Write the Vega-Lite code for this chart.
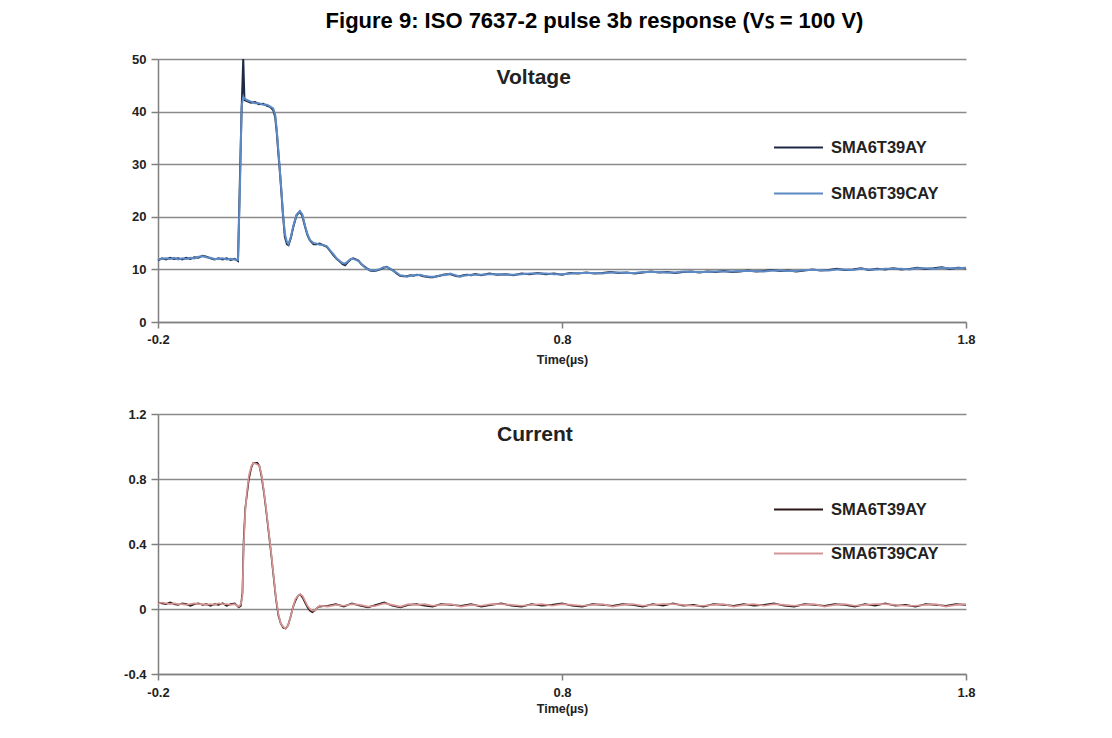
{
  "$schema": "https://vega.github.io/schema/vega-lite/v6.json",
  "background": "white",
  "padding": {"left": 118, "top": 10, "right": 10, "bottom": 10},
  "title": {"text": "Figure 9: ISO 7637-2 pulse 3b response (Vꜱ = 100 V)", "font": "Liberation Sans", "fontSize": 22, "fontWeight": "bold", "color": "#000000", "anchor": "middle", "dx": 48, "offset": 20},
  "config": {
    "font": "Liberation Sans",
    "view": {"stroke": null},
    "axis": {"labelFont": "Liberation Sans", "labelFontWeight": "bold", "labelFontSize": 13, "labelColor": "#222222", "domainColor": "#808080", "domainWidth": 1.5, "tickColor": "#808080", "tickWidth": 1.5, "gridColor": "#8a8a8a", "gridWidth": 1.3, "titleFont": "Liberation Sans", "titleFontWeight": "bold", "titleFontSize": 12.5, "titleColor": "#222222"},
    "legend": {"labelFont": "Liberation Sans", "labelFontWeight": "bold", "labelFontSize": 16.5, "labelColor": "#222222"}
  },
  "spacing": 42,
  "resolve": {"scale": {"color": "independent"}},
  "datasets": {
    "voltage": [
      {"t": -0.2, "SMA6T39AY": 11.7, "SMA6T39CAY": 11.9},
      {"t": -0.19, "SMA6T39AY": 12.1, "SMA6T39CAY": 12.0},
      {"t": -0.18, "SMA6T39AY": 11.9, "SMA6T39CAY": 12.1},
      {"t": -0.17, "SMA6T39AY": 12.2, "SMA6T39CAY": 12.0},
      {"t": -0.16, "SMA6T39AY": 12.0, "SMA6T39CAY": 12.2},
      {"t": -0.15, "SMA6T39AY": 12.1, "SMA6T39CAY": 11.9},
      {"t": -0.14, "SMA6T39AY": 11.9, "SMA6T39CAY": 12.1},
      {"t": -0.13, "SMA6T39AY": 12.2, "SMA6T39CAY": 12.0},
      {"t": -0.12, "SMA6T39AY": 12.0, "SMA6T39CAY": 12.2},
      {"t": -0.11, "SMA6T39AY": 12.3, "SMA6T39CAY": 12.1},
      {"t": -0.1, "SMA6T39AY": 12.2, "SMA6T39CAY": 12.4},
      {"t": -0.09, "SMA6T39AY": 12.6, "SMA6T39CAY": 12.5},
      {"t": -0.08, "SMA6T39AY": 12.4, "SMA6T39CAY": 12.3},
      {"t": -0.07, "SMA6T39AY": 12.1, "SMA6T39CAY": 12.2},
      {"t": -0.06, "SMA6T39AY": 11.9, "SMA6T39CAY": 12.0},
      {"t": -0.05, "SMA6T39AY": 12.1, "SMA6T39CAY": 12.0},
      {"t": -0.04, "SMA6T39AY": 11.9, "SMA6T39CAY": 12.1},
      {"t": -0.03, "SMA6T39AY": 12.1, "SMA6T39CAY": 11.9},
      {"t": -0.02, "SMA6T39AY": 11.8, "SMA6T39CAY": 12.0},
      {"t": -0.01, "SMA6T39AY": 12.0, "SMA6T39CAY": 11.9},
      {"t": -0.002, "SMA6T39AY": 11.6, "SMA6T39CAY": 11.8},
      {"t": 0.003, "SMA6T39AY": 28, "SMA6T39CAY": 26},
      {"t": 0.007, "SMA6T39AY": 40.5, "SMA6T39CAY": 41},
      {"t": 0.011, "SMA6T39AY": 50, "SMA6T39CAY": 42.8},
      {"t": 0.014, "SMA6T39AY": 42.2, "SMA6T39CAY": 42.5},
      {"t": 0.02, "SMA6T39AY": 42.0, "SMA6T39CAY": 42.2},
      {"t": 0.03, "SMA6T39AY": 41.7, "SMA6T39CAY": 41.9},
      {"t": 0.04, "SMA6T39AY": 41.8, "SMA6T39CAY": 41.6},
      {"t": 0.05, "SMA6T39AY": 41.4, "SMA6T39CAY": 41.6},
      {"t": 0.06, "SMA6T39AY": 41.5, "SMA6T39CAY": 41.3},
      {"t": 0.07, "SMA6T39AY": 41.1, "SMA6T39CAY": 41.3},
      {"t": 0.077, "SMA6T39AY": 40.9, "SMA6T39CAY": 41.0},
      {"t": 0.085, "SMA6T39AY": 40.3, "SMA6T39CAY": 40.6},
      {"t": 0.09, "SMA6T39AY": 39, "SMA6T39CAY": 39.5},
      {"t": 0.094, "SMA6T39AY": 36, "SMA6T39CAY": 36.5},
      {"t": 0.098, "SMA6T39AY": 32, "SMA6T39CAY": 32.5},
      {"t": 0.102, "SMA6T39AY": 28.3, "SMA6T39CAY": 28.5},
      {"t": 0.106, "SMA6T39AY": 24, "SMA6T39CAY": 24.5},
      {"t": 0.109, "SMA6T39AY": 20.7, "SMA6T39CAY": 21},
      {"t": 0.114, "SMA6T39AY": 16.2, "SMA6T39CAY": 16.8},
      {"t": 0.119, "SMA6T39AY": 14.8, "SMA6T39CAY": 15.2},
      {"t": 0.123, "SMA6T39AY": 14.6, "SMA6T39CAY": 14.8},
      {"t": 0.129, "SMA6T39AY": 16, "SMA6T39CAY": 16.2},
      {"t": 0.135, "SMA6T39AY": 18.1, "SMA6T39CAY": 18.3},
      {"t": 0.143, "SMA6T39AY": 20.3, "SMA6T39CAY": 20.4},
      {"t": 0.151, "SMA6T39AY": 21, "SMA6T39CAY": 21.1},
      {"t": 0.157, "SMA6T39AY": 20.2, "SMA6T39CAY": 20.5},
      {"t": 0.164, "SMA6T39AY": 18.1, "SMA6T39CAY": 18.3},
      {"t": 0.17, "SMA6T39AY": 16.5, "SMA6T39CAY": 16.7},
      {"t": 0.176, "SMA6T39AY": 15.5, "SMA6T39CAY": 15.6},
      {"t": 0.185, "SMA6T39AY": 14.8, "SMA6T39CAY": 15.0},
      {"t": 0.193, "SMA6T39AY": 14.8, "SMA6T39CAY": 14.9},
      {"t": 0.2, "SMA6T39AY": 14.9, "SMA6T39CAY": 14.7},
      {"t": 0.208, "SMA6T39AY": 14.6, "SMA6T39CAY": 14.7},
      {"t": 0.218, "SMA6T39AY": 14.3, "SMA6T39CAY": 14.4},
      {"t": 0.226, "SMA6T39AY": 13.5, "SMA6T39CAY": 13.6},
      {"t": 0.234, "SMA6T39AY": 12.7, "SMA6T39CAY": 12.9},
      {"t": 0.242, "SMA6T39AY": 12.0, "SMA6T39CAY": 12.1},
      {"t": 0.25, "SMA6T39AY": 11.5, "SMA6T39CAY": 11.6},
      {"t": 0.257, "SMA6T39AY": 11.0, "SMA6T39CAY": 11.2},
      {"t": 0.263, "SMA6T39AY": 10.8, "SMA6T39CAY": 11.1},
      {"t": 0.27, "SMA6T39AY": 11.4, "SMA6T39CAY": 11.5},
      {"t": 0.277, "SMA6T39AY": 11.9, "SMA6T39CAY": 12.0},
      {"t": 0.283, "SMA6T39AY": 12.1, "SMA6T39CAY": 12.0},
      {"t": 0.29, "SMA6T39AY": 11.9, "SMA6T39CAY": 11.8},
      {"t": 0.296, "SMA6T39AY": 11.7, "SMA6T39CAY": 11.6},
      {"t": 0.303, "SMA6T39AY": 11.0, "SMA6T39CAY": 11.1},
      {"t": 0.31, "SMA6T39AY": 10.6, "SMA6T39CAY": 10.5},
      {"t": 0.317, "SMA6T39AY": 10.2, "SMA6T39CAY": 10.1},
      {"t": 0.325, "SMA6T39AY": 9.8, "SMA6T39CAY": 9.9},
      {"t": 0.333, "SMA6T39AY": 9.7, "SMA6T39CAY": 9.8},
      {"t": 0.341, "SMA6T39AY": 9.8, "SMA6T39CAY": 9.9},
      {"t": 0.35, "SMA6T39AY": 10.0, "SMA6T39CAY": 10.1},
      {"t": 0.358, "SMA6T39AY": 10.3, "SMA6T39CAY": 10.4},
      {"t": 0.366, "SMA6T39AY": 10.5, "SMA6T39CAY": 10.4},
      {"t": 0.374, "SMA6T39AY": 10.1, "SMA6T39CAY": 10.2},
      {"t": 0.382, "SMA6T39AY": 9.8, "SMA6T39CAY": 9.7},
      {"t": 0.39, "SMA6T39AY": 9.3, "SMA6T39CAY": 9.4},
      {"t": 0.399, "SMA6T39AY": 8.8, "SMA6T39CAY": 8.9},
      {"t": 0.408, "SMA6T39AY": 8.7, "SMA6T39CAY": 8.8},
      {"t": 0.416, "SMA6T39AY": 8.7, "SMA6T39CAY": 8.6},
      {"t": 0.425, "SMA6T39AY": 8.9, "SMA6T39CAY": 8.8},
      {"t": 0.433, "SMA6T39AY": 8.8, "SMA6T39CAY": 8.9},
      {"t": 0.441, "SMA6T39AY": 9.0, "SMA6T39CAY": 8.9},
      {"t": 0.449, "SMA6T39AY": 8.9, "SMA6T39CAY": 9.0},
      {"t": 0.457, "SMA6T39AY": 8.7, "SMA6T39CAY": 8.8},
      {"t": 0.465, "SMA6T39AY": 8.6, "SMA6T39CAY": 8.7},
      {"t": 0.473, "SMA6T39AY": 8.5, "SMA6T39CAY": 8.6},
      {"t": 0.481, "SMA6T39AY": 8.5, "SMA6T39CAY": 8.6},
      {"t": 0.49, "SMA6T39AY": 8.7, "SMA6T39CAY": 8.6},
      {"t": 0.498, "SMA6T39AY": 8.8, "SMA6T39CAY": 8.9},
      {"t": 0.506, "SMA6T39AY": 9.0, "SMA6T39CAY": 8.9},
      {"t": 0.515, "SMA6T39AY": 9.1, "SMA6T39CAY": 9.0},
      {"t": 0.523, "SMA6T39AY": 9.1, "SMA6T39CAY": 9.2},
      {"t": 0.532, "SMA6T39AY": 8.9, "SMA6T39CAY": 9.0},
      {"t": 0.54, "SMA6T39AY": 8.7, "SMA6T39CAY": 8.8},
      {"t": 0.548, "SMA6T39AY": 8.7, "SMA6T39CAY": 8.6},
      {"t": 0.556, "SMA6T39AY": 8.9, "SMA6T39CAY": 8.8},
      {"t": 0.565, "SMA6T39AY": 9.0, "SMA6T39CAY": 8.9},
      {"t": 0.575, "SMA6T39AY": 8.9, "SMA6T39CAY": 9.0},
      {"t": 0.585, "SMA6T39AY": 9.1, "SMA6T39CAY": 9.0},
      {"t": 0.6, "SMA6T39AY": 8.9, "SMA6T39CAY": 9.0},
      {"t": 0.62, "SMA6T39AY": 9.2, "SMA6T39CAY": 9.1},
      {"t": 0.64, "SMA6T39AY": 9.0, "SMA6T39CAY": 9.1},
      {"t": 0.66, "SMA6T39AY": 9.1, "SMA6T39CAY": 9.0},
      {"t": 0.68, "SMA6T39AY": 8.9, "SMA6T39CAY": 9.0},
      {"t": 0.7, "SMA6T39AY": 9.2, "SMA6T39CAY": 9.1},
      {"t": 0.72, "SMA6T39AY": 9.1, "SMA6T39CAY": 9.2},
      {"t": 0.74, "SMA6T39AY": 9.3, "SMA6T39CAY": 9.2},
      {"t": 0.76, "SMA6T39AY": 9.1, "SMA6T39CAY": 9.2},
      {"t": 0.78, "SMA6T39AY": 9.2, "SMA6T39CAY": 9.1},
      {"t": 0.8, "SMA6T39AY": 9.0, "SMA6T39CAY": 9.1},
      {"t": 0.82, "SMA6T39AY": 9.3, "SMA6T39CAY": 9.2},
      {"t": 0.84, "SMA6T39AY": 9.2, "SMA6T39CAY": 9.3},
      {"t": 0.86, "SMA6T39AY": 9.4, "SMA6T39CAY": 9.3},
      {"t": 0.88, "SMA6T39AY": 9.2, "SMA6T39CAY": 9.3},
      {"t": 0.9, "SMA6T39AY": 9.3, "SMA6T39CAY": 9.2},
      {"t": 0.92, "SMA6T39AY": 9.5, "SMA6T39CAY": 9.4},
      {"t": 0.94, "SMA6T39AY": 9.3, "SMA6T39CAY": 9.4},
      {"t": 0.96, "SMA6T39AY": 9.4, "SMA6T39CAY": 9.3},
      {"t": 0.98, "SMA6T39AY": 9.2, "SMA6T39CAY": 9.3},
      {"t": 1.0, "SMA6T39AY": 9.4, "SMA6T39CAY": 9.5},
      {"t": 1.02, "SMA6T39AY": 9.6, "SMA6T39CAY": 9.5},
      {"t": 1.04, "SMA6T39AY": 9.4, "SMA6T39CAY": 9.5},
      {"t": 1.06, "SMA6T39AY": 9.5, "SMA6T39CAY": 9.4},
      {"t": 1.08, "SMA6T39AY": 9.3, "SMA6T39CAY": 9.4},
      {"t": 1.1, "SMA6T39AY": 9.5, "SMA6T39CAY": 9.6},
      {"t": 1.12, "SMA6T39AY": 9.6, "SMA6T39CAY": 9.5},
      {"t": 1.14, "SMA6T39AY": 9.4, "SMA6T39CAY": 9.5},
      {"t": 1.16, "SMA6T39AY": 9.6, "SMA6T39CAY": 9.5},
      {"t": 1.18, "SMA6T39AY": 9.5, "SMA6T39CAY": 9.6},
      {"t": 1.2, "SMA6T39AY": 9.7, "SMA6T39CAY": 9.6},
      {"t": 1.22, "SMA6T39AY": 9.5, "SMA6T39CAY": 9.6},
      {"t": 1.24, "SMA6T39AY": 9.6, "SMA6T39CAY": 9.7},
      {"t": 1.26, "SMA6T39AY": 9.8, "SMA6T39CAY": 9.7},
      {"t": 1.28, "SMA6T39AY": 9.6, "SMA6T39CAY": 9.7},
      {"t": 1.3, "SMA6T39AY": 9.7, "SMA6T39CAY": 9.6},
      {"t": 1.32, "SMA6T39AY": 9.9, "SMA6T39CAY": 9.8},
      {"t": 1.34, "SMA6T39AY": 9.7, "SMA6T39CAY": 9.8},
      {"t": 1.36, "SMA6T39AY": 9.8, "SMA6T39CAY": 9.7},
      {"t": 1.38, "SMA6T39AY": 9.6, "SMA6T39CAY": 9.7},
      {"t": 1.4, "SMA6T39AY": 9.8, "SMA6T39CAY": 9.9},
      {"t": 1.42, "SMA6T39AY": 10.0, "SMA6T39CAY": 9.9},
      {"t": 1.44, "SMA6T39AY": 9.8, "SMA6T39CAY": 9.9},
      {"t": 1.46, "SMA6T39AY": 9.9, "SMA6T39CAY": 9.8},
      {"t": 1.48, "SMA6T39AY": 10.1, "SMA6T39CAY": 10.0},
      {"t": 1.5, "SMA6T39AY": 9.9, "SMA6T39CAY": 10.0},
      {"t": 1.52, "SMA6T39AY": 10.0, "SMA6T39CAY": 9.9},
      {"t": 1.54, "SMA6T39AY": 10.2, "SMA6T39CAY": 10.1},
      {"t": 1.56, "SMA6T39AY": 9.9, "SMA6T39CAY": 10.0},
      {"t": 1.58, "SMA6T39AY": 10.1, "SMA6T39CAY": 10.0},
      {"t": 1.6, "SMA6T39AY": 10.0, "SMA6T39CAY": 10.1},
      {"t": 1.62, "SMA6T39AY": 10.2, "SMA6T39CAY": 10.1},
      {"t": 1.64, "SMA6T39AY": 10.0, "SMA6T39CAY": 10.1},
      {"t": 1.66, "SMA6T39AY": 10.1, "SMA6T39CAY": 10.0},
      {"t": 1.68, "SMA6T39AY": 10.3, "SMA6T39CAY": 10.2},
      {"t": 1.7, "SMA6T39AY": 10.1, "SMA6T39CAY": 10.2},
      {"t": 1.72, "SMA6T39AY": 10.2, "SMA6T39CAY": 10.1},
      {"t": 1.74, "SMA6T39AY": 10.4, "SMA6T39CAY": 10.3},
      {"t": 1.76, "SMA6T39AY": 10.1, "SMA6T39CAY": 10.2},
      {"t": 1.78, "SMA6T39AY": 10.3, "SMA6T39CAY": 10.2},
      {"t": 1.8, "SMA6T39AY": 10.2, "SMA6T39CAY": 10.3}
    ],
    "current": [
      {"t": -0.2, "SMA6T39AY": 0.04, "SMA6T39CAY": 0.035},
      {"t": -0.19, "SMA6T39AY": 0.035, "SMA6T39CAY": 0.04},
      {"t": -0.18, "SMA6T39AY": 0.03, "SMA6T39CAY": 0.035},
      {"t": -0.17, "SMA6T39AY": 0.04, "SMA6T39CAY": 0.03},
      {"t": -0.16, "SMA6T39AY": 0.03, "SMA6T39CAY": 0.035},
      {"t": -0.15, "SMA6T39AY": 0.025, "SMA6T39CAY": 0.03},
      {"t": -0.14, "SMA6T39AY": 0.035, "SMA6T39CAY": 0.03},
      {"t": -0.13, "SMA6T39AY": 0.03, "SMA6T39CAY": 0.025},
      {"t": -0.12, "SMA6T39AY": 0.02, "SMA6T39CAY": 0.03},
      {"t": -0.11, "SMA6T39AY": 0.03, "SMA6T39CAY": 0.035},
      {"t": -0.1, "SMA6T39AY": 0.035, "SMA6T39CAY": 0.03},
      {"t": -0.09, "SMA6T39AY": 0.025, "SMA6T39CAY": 0.03},
      {"t": -0.08, "SMA6T39AY": 0.03, "SMA6T39CAY": 0.025},
      {"t": -0.07, "SMA6T39AY": 0.02, "SMA6T39CAY": 0.03},
      {"t": -0.06, "SMA6T39AY": 0.03, "SMA6T39CAY": 0.025},
      {"t": -0.05, "SMA6T39AY": 0.025, "SMA6T39CAY": 0.035},
      {"t": -0.04, "SMA6T39AY": 0.035, "SMA6T39CAY": 0.03},
      {"t": -0.03, "SMA6T39AY": 0.02, "SMA6T39CAY": 0.03},
      {"t": -0.02, "SMA6T39AY": 0.03, "SMA6T39CAY": 0.025},
      {"t": -0.01, "SMA6T39AY": 0.035, "SMA6T39CAY": 0.03},
      {"t": 0.0, "SMA6T39AY": 0.01, "SMA6T39CAY": 0.015},
      {"t": 0.005, "SMA6T39AY": 0.02, "SMA6T39CAY": 0.03},
      {"t": 0.009, "SMA6T39AY": 0.1, "SMA6T39CAY": 0.08},
      {"t": 0.012, "SMA6T39AY": 0.42, "SMA6T39CAY": 0.38},
      {"t": 0.016, "SMA6T39AY": 0.62, "SMA6T39CAY": 0.6},
      {"t": 0.02, "SMA6T39AY": 0.7, "SMA6T39CAY": 0.72},
      {"t": 0.025, "SMA6T39AY": 0.8, "SMA6T39CAY": 0.82},
      {"t": 0.031, "SMA6T39AY": 0.87, "SMA6T39CAY": 0.88},
      {"t": 0.036, "SMA6T39AY": 0.9, "SMA6T39CAY": 0.9},
      {"t": 0.046, "SMA6T39AY": 0.9, "SMA6T39CAY": 0.89},
      {"t": 0.051, "SMA6T39AY": 0.88, "SMA6T39CAY": 0.88},
      {"t": 0.056, "SMA6T39AY": 0.82, "SMA6T39CAY": 0.83},
      {"t": 0.062, "SMA6T39AY": 0.72, "SMA6T39CAY": 0.73},
      {"t": 0.068, "SMA6T39AY": 0.6, "SMA6T39CAY": 0.61},
      {"t": 0.074, "SMA6T39AY": 0.47, "SMA6T39CAY": 0.48},
      {"t": 0.08, "SMA6T39AY": 0.34, "SMA6T39CAY": 0.35},
      {"t": 0.086, "SMA6T39AY": 0.2, "SMA6T39CAY": 0.21},
      {"t": 0.092, "SMA6T39AY": 0.06, "SMA6T39CAY": 0.07},
      {"t": 0.098, "SMA6T39AY": -0.04, "SMA6T39CAY": -0.03},
      {"t": 0.104, "SMA6T39AY": -0.09, "SMA6T39CAY": -0.09},
      {"t": 0.11, "SMA6T39AY": -0.115, "SMA6T39CAY": -0.11},
      {"t": 0.116, "SMA6T39AY": -0.12, "SMA6T39CAY": -0.12},
      {"t": 0.122, "SMA6T39AY": -0.1, "SMA6T39CAY": -0.1},
      {"t": 0.128, "SMA6T39AY": -0.05, "SMA6T39CAY": -0.05},
      {"t": 0.134, "SMA6T39AY": 0.01, "SMA6T39CAY": 0.01},
      {"t": 0.14, "SMA6T39AY": 0.05, "SMA6T39CAY": 0.06},
      {"t": 0.146, "SMA6T39AY": 0.08, "SMA6T39CAY": 0.08},
      {"t": 0.152, "SMA6T39AY": 0.09, "SMA6T39CAY": 0.09},
      {"t": 0.158, "SMA6T39AY": 0.07, "SMA6T39CAY": 0.08},
      {"t": 0.164, "SMA6T39AY": 0.04, "SMA6T39CAY": 0.05},
      {"t": 0.17, "SMA6T39AY": 0.01, "SMA6T39CAY": 0.02},
      {"t": 0.176, "SMA6T39AY": -0.01, "SMA6T39CAY": 0.0},
      {"t": 0.182, "SMA6T39AY": -0.02, "SMA6T39CAY": -0.01},
      {"t": 0.188, "SMA6T39AY": -0.01, "SMA6T39CAY": -0.01},
      {"t": 0.195, "SMA6T39AY": 0.01, "SMA6T39CAY": 0.01},
      {"t": 0.2, "SMA6T39AY": 0.015, "SMA6T39CAY": 0.02},
      {"t": 0.22, "SMA6T39AY": 0.02, "SMA6T39CAY": 0.015},
      {"t": 0.24, "SMA6T39AY": 0.03, "SMA6T39CAY": 0.025},
      {"t": 0.26, "SMA6T39AY": 0.015, "SMA6T39CAY": 0.02},
      {"t": 0.28, "SMA6T39AY": 0.035, "SMA6T39CAY": 0.03},
      {"t": 0.3, "SMA6T39AY": 0.02, "SMA6T39CAY": 0.025},
      {"t": 0.32, "SMA6T39AY": 0.01, "SMA6T39CAY": 0.015},
      {"t": 0.34, "SMA6T39AY": 0.025, "SMA6T39CAY": 0.02},
      {"t": 0.36, "SMA6T39AY": 0.04, "SMA6T39CAY": 0.035},
      {"t": 0.38, "SMA6T39AY": 0.02, "SMA6T39CAY": 0.025},
      {"t": 0.4, "SMA6T39AY": 0.01, "SMA6T39CAY": 0.015},
      {"t": 0.42, "SMA6T39AY": 0.025, "SMA6T39CAY": 0.03},
      {"t": 0.44, "SMA6T39AY": 0.03, "SMA6T39CAY": 0.025},
      {"t": 0.46, "SMA6T39AY": 0.02, "SMA6T39CAY": 0.03},
      {"t": 0.48, "SMA6T39AY": 0.015, "SMA6T39CAY": 0.02},
      {"t": 0.5, "SMA6T39AY": 0.03, "SMA6T39CAY": 0.025},
      {"t": 0.525, "SMA6T39AY": 0.025, "SMA6T39CAY": 0.03},
      {"t": 0.55, "SMA6T39AY": 0.02, "SMA6T39CAY": 0.015},
      {"t": 0.575, "SMA6T39AY": 0.03, "SMA6T39CAY": 0.025},
      {"t": 0.6, "SMA6T39AY": 0.015, "SMA6T39CAY": 0.02},
      {"t": 0.625, "SMA6T39AY": 0.025, "SMA6T39CAY": 0.03},
      {"t": 0.65, "SMA6T39AY": 0.035, "SMA6T39CAY": 0.03},
      {"t": 0.675, "SMA6T39AY": 0.02, "SMA6T39CAY": 0.025},
      {"t": 0.7, "SMA6T39AY": 0.015, "SMA6T39CAY": 0.02},
      {"t": 0.725, "SMA6T39AY": 0.03, "SMA6T39CAY": 0.025},
      {"t": 0.75, "SMA6T39AY": 0.02, "SMA6T39CAY": 0.03},
      {"t": 0.775, "SMA6T39AY": 0.025, "SMA6T39CAY": 0.02},
      {"t": 0.8, "SMA6T39AY": 0.035, "SMA6T39CAY": 0.03},
      {"t": 0.825, "SMA6T39AY": 0.02, "SMA6T39CAY": 0.025},
      {"t": 0.85, "SMA6T39AY": 0.015, "SMA6T39CAY": 0.02},
      {"t": 0.875, "SMA6T39AY": 0.03, "SMA6T39CAY": 0.025},
      {"t": 0.9, "SMA6T39AY": 0.025, "SMA6T39CAY": 0.03},
      {"t": 0.925, "SMA6T39AY": 0.02, "SMA6T39CAY": 0.015},
      {"t": 0.95, "SMA6T39AY": 0.03, "SMA6T39CAY": 0.025},
      {"t": 0.975, "SMA6T39AY": 0.025, "SMA6T39CAY": 0.03},
      {"t": 1.0, "SMA6T39AY": 0.015, "SMA6T39CAY": 0.02},
      {"t": 1.025, "SMA6T39AY": 0.03, "SMA6T39CAY": 0.025},
      {"t": 1.05, "SMA6T39AY": 0.02, "SMA6T39CAY": 0.03},
      {"t": 1.075, "SMA6T39AY": 0.035, "SMA6T39CAY": 0.03},
      {"t": 1.1, "SMA6T39AY": 0.02, "SMA6T39CAY": 0.025},
      {"t": 1.125, "SMA6T39AY": 0.025, "SMA6T39CAY": 0.02},
      {"t": 1.15, "SMA6T39AY": 0.015, "SMA6T39CAY": 0.02},
      {"t": 1.175, "SMA6T39AY": 0.03, "SMA6T39CAY": 0.025},
      {"t": 1.2, "SMA6T39AY": 0.025, "SMA6T39CAY": 0.03},
      {"t": 1.225, "SMA6T39AY": 0.02, "SMA6T39CAY": 0.015},
      {"t": 1.25, "SMA6T39AY": 0.03, "SMA6T39CAY": 0.025},
      {"t": 1.275, "SMA6T39AY": 0.02, "SMA6T39CAY": 0.03},
      {"t": 1.3, "SMA6T39AY": 0.025, "SMA6T39CAY": 0.02},
      {"t": 1.325, "SMA6T39AY": 0.035, "SMA6T39CAY": 0.03},
      {"t": 1.35, "SMA6T39AY": 0.02, "SMA6T39CAY": 0.025},
      {"t": 1.375, "SMA6T39AY": 0.015, "SMA6T39CAY": 0.02},
      {"t": 1.4, "SMA6T39AY": 0.03, "SMA6T39CAY": 0.025},
      {"t": 1.425, "SMA6T39AY": 0.025, "SMA6T39CAY": 0.03},
      {"t": 1.45, "SMA6T39AY": 0.02, "SMA6T39CAY": 0.015},
      {"t": 1.475, "SMA6T39AY": 0.03, "SMA6T39CAY": 0.025},
      {"t": 1.5, "SMA6T39AY": 0.025, "SMA6T39CAY": 0.03},
      {"t": 1.525, "SMA6T39AY": 0.015, "SMA6T39CAY": 0.02},
      {"t": 1.55, "SMA6T39AY": 0.03, "SMA6T39CAY": 0.025},
      {"t": 1.575, "SMA6T39AY": 0.02, "SMA6T39CAY": 0.03},
      {"t": 1.6, "SMA6T39AY": 0.035, "SMA6T39CAY": 0.03},
      {"t": 1.625, "SMA6T39AY": 0.02, "SMA6T39CAY": 0.025},
      {"t": 1.65, "SMA6T39AY": 0.025, "SMA6T39CAY": 0.02},
      {"t": 1.675, "SMA6T39AY": 0.015, "SMA6T39CAY": 0.02},
      {"t": 1.7, "SMA6T39AY": 0.03, "SMA6T39CAY": 0.025},
      {"t": 1.725, "SMA6T39AY": 0.025, "SMA6T39CAY": 0.03},
      {"t": 1.75, "SMA6T39AY": 0.02, "SMA6T39CAY": 0.015},
      {"t": 1.775, "SMA6T39AY": 0.03, "SMA6T39CAY": 0.025},
      {"t": 1.8, "SMA6T39AY": 0.025, "SMA6T39CAY": 0.03}
    ]
  },
  "vconcat": [
    {
      "width": 808,
      "height": 263,
      "layer": [
        {
          "data": {"name": "voltage"},
          "transform": [{"fold": ["SMA6T39AY", "SMA6T39CAY"], "as": ["device", "value"]}],
          "mark": {"type": "line", "strokeWidth": 2},
          "encoding": {
            "x": {"field": "t", "type": "quantitative", "scale": {"domain": [-0.2, 1.8], "nice": false, "zero": false},
                  "axis": {"values": [-0.2, 0.8, 1.8], "title": "Time(µs)", "grid": false, "labelFlush": false, "tickSize": 6, "labelPadding": 5, "titlePadding": 7,
                           "labelExpr": "(datum.value < 0 ? '-' : '') + format(abs(datum.value), '.1f')"}},
            "y": {"field": "value", "type": "quantitative", "scale": {"domain": [0, 50], "nice": false},
                  "axis": {"values": [0, 10, 20, 30, 40, 50], "title": null, "grid": true, "tickSize": 7, "labelPadding": 5, "minExtent": 40, "maxExtent": 40}},
            "color": {"field": "device", "type": "nominal", "scale": {"domain": ["SMA6T39AY", "SMA6T39CAY"], "range": ["#1e2a45", "#5d8ac4"]},
                      "legend": {"orient": "none", "legendX": 615, "legendY": 63, "title": null, "symbolType": "stroke", "symbolSize": 2400, "symbolStrokeWidth": 2, "rowPadding": 12, "labelOffset": 7}}
          }
        },
        {
          "data": {"values": [{"label": "Voltage"}]},
          "mark": {"type": "text", "fontSize": 21, "fontWeight": "bold", "color": "#222222", "font": "Liberation Sans"},
          "encoding": {
            "x": {"datum": 0.73, "type": "quantitative"},
            "y": {"datum": 46.4, "type": "quantitative"},
            "text": {"field": "label"}
          }
        }
      ]
    },
    {
      "width": 808,
      "height": 260,
      "layer": [
        {
          "data": {"name": "current"},
          "transform": [{"fold": ["SMA6T39AY", "SMA6T39CAY"], "as": ["device", "value"]}],
          "mark": {"type": "line", "strokeWidth": 1.7},
          "encoding": {
            "x": {"field": "t", "type": "quantitative", "scale": {"domain": [-0.2, 1.8], "nice": false, "zero": false},
                  "axis": {"values": [-0.2, 0.8, 1.8], "title": "Time(µs)", "grid": false, "labelFlush": false, "tickSize": 6, "labelPadding": 6, "titlePadding": 3,
                           "labelExpr": "(datum.value < 0 ? '-' : '') + format(abs(datum.value), '.1f')"}},
            "y": {"field": "value", "type": "quantitative", "scale": {"domain": [-0.4, 1.2], "nice": false, "zero": false},
                  "axis": {"values": [-0.4, 0, 0.4, 0.8, 1.2], "title": null, "grid": true, "tickSize": 7, "labelPadding": 5, "minExtent": 40, "maxExtent": 40,
                           "labelExpr": "datum.value == 0 ? '0' : (datum.value < 0 ? '-' : '') + format(abs(datum.value), '.1f')"}},
            "color": {"field": "device", "type": "nominal", "scale": {"domain": ["SMA6T39AY", "SMA6T39CAY"], "range": ["#2b1717", "#d69595"]},
                      "legend": {"orient": "none", "legendX": 615, "legendY": 70, "title": null, "symbolType": "stroke", "symbolSize": 2400, "symbolStrokeWidth": 2, "rowPadding": 10, "labelOffset": 7}}
          }
        },
        {
          "data": {"values": [{"label": "Current"}]},
          "mark": {"type": "text", "fontSize": 21, "fontWeight": "bold", "color": "#222222", "font": "Liberation Sans"},
          "encoding": {
            "x": {"datum": 0.733, "type": "quantitative"},
            "y": {"datum": 1.071, "type": "quantitative"},
            "text": {"field": "label"}
          }
        }
      ]
    }
  ]
}
